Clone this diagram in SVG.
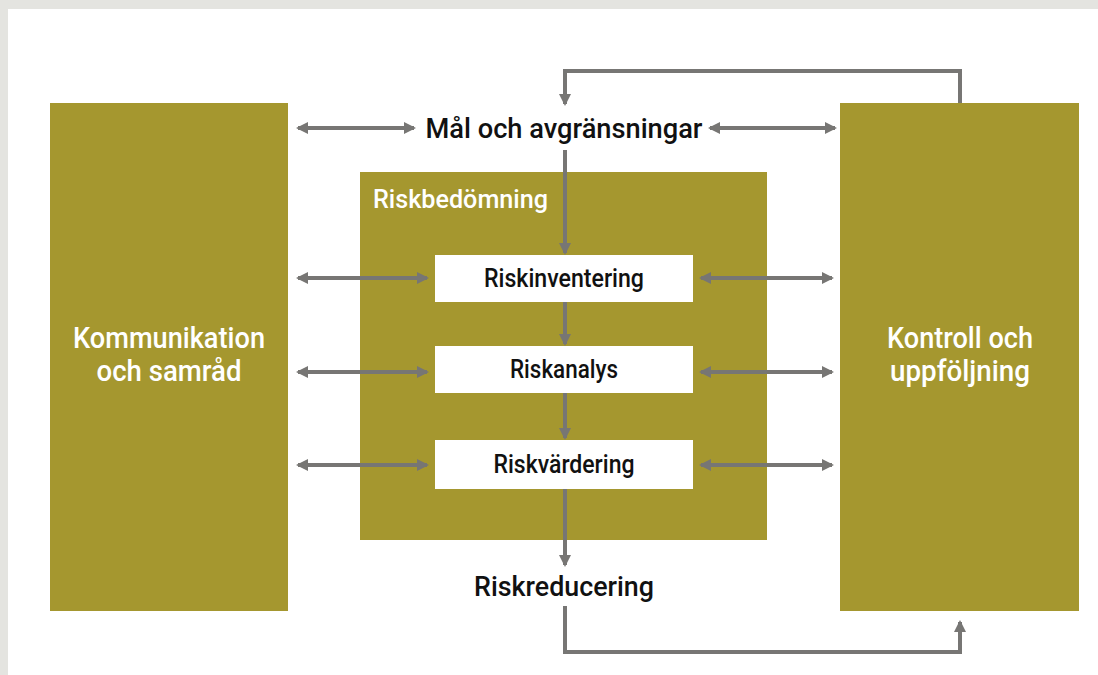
<svg xmlns="http://www.w3.org/2000/svg" width="1098" height="675" viewBox="0 0 1098 675">
<style>
.olive{fill:#a5972f}
.wbox{fill:#ffffff}
.con{stroke:#777674;stroke-width:4;fill:none}
.lbl{font-family:Roboto,"Liberation Sans",Arial,sans-serif;font-weight:500;text-anchor:middle}
.wt{fill:#ffffff;font-size:29px}
.bk{fill:#111111}
</style>
<defs>
<marker id="ah" viewBox="0 0 12 12" refX="10" refY="6" markerWidth="12" markerHeight="12" markerUnits="userSpaceOnUse" orient="auto-start-reverse">
<path d="M0,0 L12,6 L0,12 Z" fill="#777674"/>
</marker>
</defs>
<rect x="0" y="0" width="1098" height="675" fill="#e4e4e0"/>
<rect x="8" y="9" width="1090" height="666" fill="#ffffff"/>
<g id="kommunikation">
<rect class="olive" x="50" y="103" width="238" height="508"/>
<text class="lbl wt" x="169" y="348" textLength="192" lengthAdjust="spacingAndGlyphs">Kommunikation</text>
<text class="lbl wt" x="169" y="381" textLength="145" lengthAdjust="spacingAndGlyphs">och samråd</text>
</g>
<g id="kontroll">
<rect class="olive" x="840" y="103" width="239" height="508"/>
<text class="lbl wt" x="960" y="348" textLength="146" lengthAdjust="spacingAndGlyphs">Kontroll och</text>
<text class="lbl wt" x="960" y="381" textLength="140" lengthAdjust="spacingAndGlyphs">uppföljning</text>
</g>
<g id="riskbedomning">
<rect class="olive" x="360" y="172" width="407" height="368"/>
<text class="lbl" x="373" y="208" textLength="175" lengthAdjust="spacingAndGlyphs" style="text-anchor:start;fill:#fff;font-size:26px">Riskbedömning</text>
</g>
<g id="riskinventering">
<rect class="wbox" x="435" y="255" width="258" height="47"/>
<text class="lbl bk" x="564" y="287" font-size="25" textLength="160" lengthAdjust="spacingAndGlyphs">Riskinventering</text>
</g>
<g id="riskanalys">
<rect class="wbox" x="435" y="346" width="258" height="47"/>
<text class="lbl bk" x="564" y="378" font-size="25" textLength="108" lengthAdjust="spacingAndGlyphs">Riskanalys</text>
</g>
<g id="riskvardering">
<rect class="wbox" x="435" y="440" width="258" height="49"/>
<text class="lbl bk" x="564" y="473" font-size="25" textLength="141" lengthAdjust="spacingAndGlyphs">Riskvärdering</text>
</g>
<g id="mal">
<text class="lbl bk" x="564" y="138" font-size="27" textLength="277" lengthAdjust="spacingAndGlyphs">Mål och avgränsningar</text>
</g>
<g id="riskreducering">
<text class="lbl bk" x="564" y="596" font-size="27" textLength="180" lengthAdjust="spacingAndGlyphs">Riskreducering</text>
</g>
<g id="connectors">
<path class="con" d="M960,103 V71 H565 V104" marker-end="url(#ah)"/>
<path class="con" d="M565,150 V253" marker-end="url(#ah)"/>
<path class="con" d="M565,302 V344" marker-end="url(#ah)"/>
<path class="con" d="M565,393 V438" marker-end="url(#ah)"/>
<path class="con" d="M565,489 V565" marker-end="url(#ah)"/>
<path class="con" d="M565,606 V652 H960 V622" marker-end="url(#ah)"/>
<path class="con" d="M298,128 H414" marker-start="url(#ah)" marker-end="url(#ah)"/>
<path class="con" d="M710,128 H835" marker-start="url(#ah)" marker-end="url(#ah)"/>
<path class="con" d="M298,278 H427" marker-start="url(#ah)" marker-end="url(#ah)"/>
<path class="con" d="M701,278 H832" marker-start="url(#ah)" marker-end="url(#ah)"/>
<path class="con" d="M298,372 H427" marker-start="url(#ah)" marker-end="url(#ah)"/>
<path class="con" d="M701,372 H832" marker-start="url(#ah)" marker-end="url(#ah)"/>
<path class="con" d="M298,465 H427" marker-start="url(#ah)" marker-end="url(#ah)"/>
<path class="con" d="M701,465 H832" marker-start="url(#ah)" marker-end="url(#ah)"/>
</g>
</svg>
